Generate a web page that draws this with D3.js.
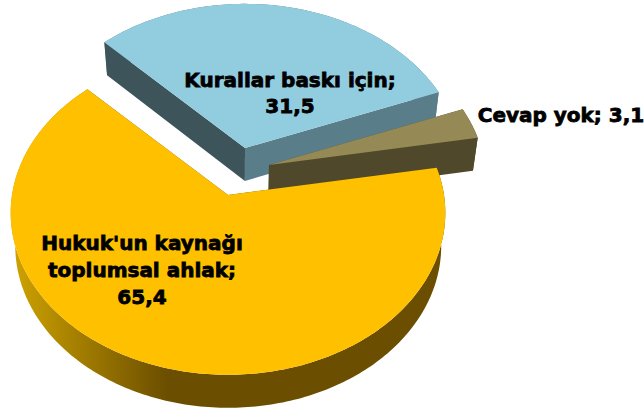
<!DOCTYPE html>
<html>
<head>
<meta charset="utf-8">
<script src="https://cdn.jsdelivr.net/npm/d3@7"></script>
<style>
  html, body { margin: 0; padding: 0; background: #fff; }
  text { font-family: "DejaVu Sans", sans-serif; font-weight: 700; fill: #000; stroke: #000; stroke-width: 0.8px; }
</style>
</head>
<body>
<svg id="chart" width="644" height="409"></svg>
<script>
var categories = ["Kurallar baskı için", "Cevap yok", "Hukuk'un kaynağı toplumsal ahlak"]
var values = [31.5, 3.1, 65.4]
var labelLines = [["Kurallar baskı için;", "31,5"], ["Cevap yok; 3,1"], ["Hukuk'un kaynağı", "toplumsal ahlak;", "65,4"]]
var topColors = ["#92cddf", "#958a55", "#ffc000"]
var startWallColors = ["#3e545b", "#4f482b", "#6b4e00"]
var endWallColors = ["#5a7d8a", "#4f482b", "#6b4e00"]

var svg = d3.select("#chart")

// slice apex on screen, they are pulled apart by hand
var apex = [[245, 148], [269, 165], [228, 195]]
var labelAt = [[290, 87], [561, 122], [142, 250]]
var lineStep = [26, 0, 27]

var radiusX = 216
var radiusY = 160
var persp = 0.11
var depth = 33
var shrink = 0.98
var vanishX = 240

var pie = d3.pie().sort(null).value(function (d) { return d })
  .startAngle(-44.6 * Math.PI / 180)
  .endAngle(315.4 * Math.PI / 180)
var arcs = pie(values)

function project(i, a) {
  var u = Math.sin(a)
  var v = -Math.cos(a)
  var w = 1 - persp * v
  return [apex[i][0] + radiusX * u / w, apex[i][1] + radiusY * v / w]
}

function lower(p) {
  return [vanishX + (p[0] - vanishX) * shrink, p[1] + depth]
}

function arcPoints(i, a0, a1) {
  var n = Math.max(2, Math.ceil(Math.abs(a1 - a0) * 60))
  return d3.range(n + 1).map(function (k) {
    return project(i, a0 + (a1 - a0) * k / n)
  })
}

var line = d3.line()

var defs = svg.append("defs")
var grad = defs.append("linearGradient")
  .attr("id", "yellowWall")
  .attr("gradientUnits", "userSpaceOnUse")
  .attr("x1", 12).attr("x2", 445).attr("y1", 0).attr("y2", 0)
grad.append("stop").attr("offset", 0).attr("stop-color", "#cfa300")
grad.append("stop").attr("offset", 0.12).attr("stop-color", "#ad8600")
grad.append("stop").attr("offset", 0.36).attr("stop-color", "#6b4e00")
grad.append("stop").attr("offset", 1).attr("stop-color", "#6b4e00")

arcs.forEach(function (d, i) {
  var g = svg.append("g").attr("class", "slice")
  var edge = arcPoints(i, d.startAngle, d.endAngle)
  var centre = apex[i]

  // outer wall
  g.append("path")
    .attr("d", line(edge.concat(edge.map(lower).reverse())) + "Z")
    .attr("fill", i == 2 ? "url(#yellowWall)" : endWallColors[i])

  // the two cut walls
  var startP = edge[0]
  var endP = edge[edge.length - 1]
  g.append("path")
    .attr("d", line([centre, startP, lower(startP), lower(centre)]) + "Z")
    .attr("fill", startWallColors[i])
  g.append("path")
    .attr("d", line([centre, endP, lower(endP), lower(centre)]) + "Z")
    .attr("fill", endWallColors[i])

  // top face
  g.append("path")
    .attr("d", line([centre].concat(edge)) + "Z")
    .attr("fill", topColors[i])
})

labelLines.forEach(function (lines, i) {
  var t = svg.append("text")
    .attr("class", "label")
    .attr("text-anchor", "middle")
    .attr("font-size", 20)
    .attr("data-category", categories[i])
  lines.forEach(function (s, k) {
    t.append("tspan")
      .attr("x", labelAt[i][0])
      .attr("y", labelAt[i][1] + k * lineStep[i])
      .text(s)
  })
})
</script>
</body>
</html>
